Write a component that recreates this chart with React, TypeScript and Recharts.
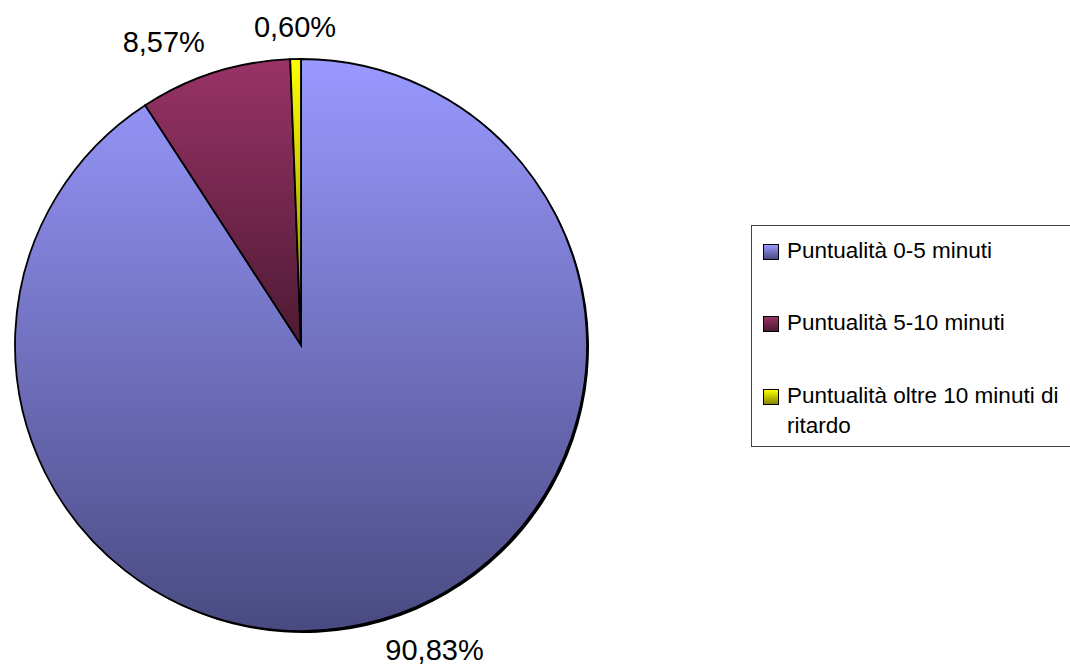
import React from 'react';
import { PieChart, Pie, Cell, Legend } from 'recharts';

const categories = ['Puntualità 0-5 minuti', 'Puntualità 5-10 minuti', 'Puntualità oltre 10 minuti di ritardo'];
const values = [90.83, 8.57, 0.6];
const topColors = ['#9999FF', '#993366', '#FFFF00'];
const bottomColors = ['#4A4A82', '#4D1A33', '#858500'];

const data = categories.map((name, i) => ({ name, value: values[i] }));

const RADIAN = Math.PI / 180;
const font = '"Liberation Sans", Arial, sans-serif';

const renderLabel = (props: any) => {
  const { cx, cy, midAngle, outerRadius, value } = props;
  const r = outerRadius + 32;
  const cos = Math.cos(-midAngle * RADIAN);
  const sin = Math.sin(-midAngle * RADIAN);
  const x = cx + r * cos;
  const y = cy + r * sin;
  const anchor = Math.abs(cos) < 0.1 ? 'middle' : cos > 0 ? 'start' : 'end';
  return (
    <text x={x - (anchor === 'start' ? 6 : 0)} y={y} textAnchor={anchor} dominantBaseline="central"
      fontSize={29} fontFamily={font} fill="#000">
      {value.toFixed(2).replace('.', ',') + '%'}
    </text>
  );
};

const LegendBox = () => (
  <div style={styles.legendBox}>
    {categories.map((name, i) => (
      <div key={name} style={{ ...styles.legendRow, top: [10, 82, 155][i] }}>
        <span style={{
          ...styles.swatch,
          background: `linear-gradient(${topColors[i]}, ${bottomColors[i]})`,
        }} />
        <span style={styles.legendText}>{name}</span>
      </div>
    ))}
  </div>
);

const App: React.FC = () => (
  <div style={{ position: 'absolute', left: 0, top: 0, width: 1070, height: 666, background: '#fff', overflow: 'hidden' }}>
    <PieChart width={1070} height={666} margin={{ top: 0, right: 0, bottom: 0, left: 0 }}>
      <defs>
        {topColors.map((c, i) => (
          <linearGradient key={i} id={`grad${i}`} x1="0" y1="0" x2="0" y2="1">
            <stop offset="0%" stopColor={c} />
            <stop offset="100%" stopColor={bottomColors[i]} />
          </linearGradient>
        ))}
      </defs>
      <Pie
        data={data}
        dataKey="value"
        cx={303}
        cy={347}
        outerRadius={286}
        startAngle={90}
        endAngle={-270}
        stroke="none"
        fill="#000"
        legendType="none"
        isAnimationActive={false}
      />
      <Pie
        data={data}
        dataKey="value"
        cx={301}
        cy={345}
        outerRadius={286}
        startAngle={90}
        endAngle={-270}
        stroke="#000"
        strokeWidth={1.8}
        label={renderLabel}
        labelLine={false}
        isAnimationActive={false}
      >
        {data.map((d, i) => (
          <Cell key={d.name} fill={`url(#grad${i})`} />
        ))}
      </Pie>
      <Legend
        layout="vertical"
        align="right"
        verticalAlign="middle"
        content={() => <LegendBox />}
        wrapperStyle={{ position: 'absolute', left: 751, top: 225, width: 330, height: 222 }}
      />
    </PieChart>
  </div>
);

const styles = {
  legendBox: {
    position: 'relative' as const,
    width: 330,
    height: 222,
    boxSizing: 'border-box' as const,
    border: '1.5px solid #444',
    background: '#fff',
    fontFamily: font,
  },
  legendRow: {
    position: 'absolute' as const,
    left: 11,
    display: 'flex',
    alignItems: 'flex-start',
  },
  swatch: {
    display: 'inline-block',
    width: 14,
    height: 14,
    border: '1.5px solid #000',
    marginTop: 8,
    marginRight: 8,
    flexShrink: 0,
  },
  legendText: {
    fontSize: 22.5,
    lineHeight: '30px',
    color: '#000',
    width: 300,
  },
};

export default App;
